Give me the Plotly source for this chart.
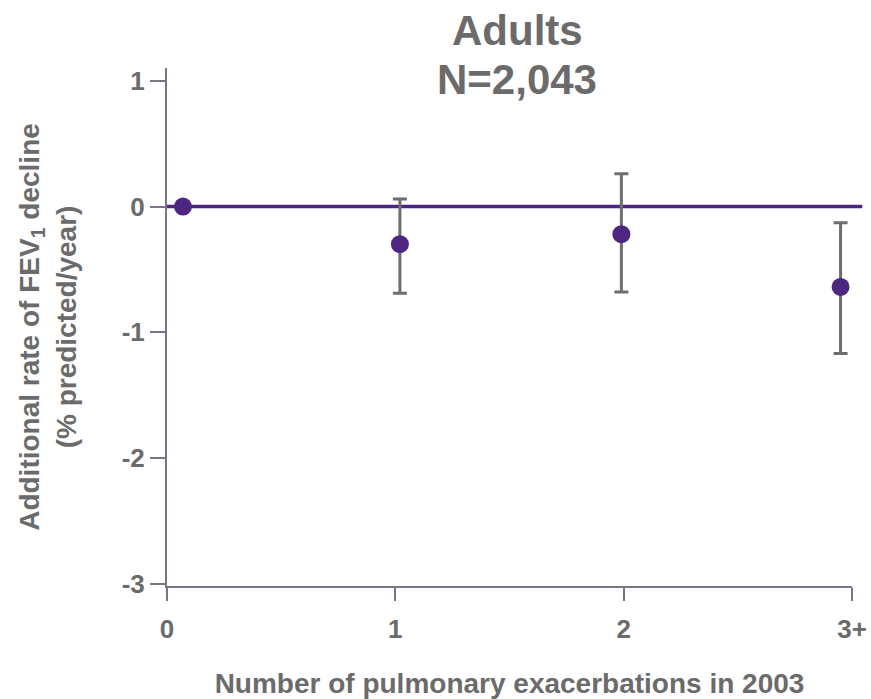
import plotly.graph_objects as go

# Exacerbation groups and their plotting positions along the x axis
group_labels = ["0", "1", "2", "3+"]
group_ticks = [0, 1, 2, 3]
point_x = [0.07, 1.02, 1.99, 2.95]

# Additional FEV1 decline (% predicted/year) with confidence limits
decline = [0.0, -0.30, -0.22, -0.64]
ci_upper = [None, 0.06, 0.26, -0.13]
ci_lower = [None, -0.69, -0.68, -1.17]

y_ticks = [1, 0, -1, -2, -3]
y_tick_text = ["1", "0", "-1", "-2", "-3"]
REF_LEVEL = 0

# Heading lines and their vertical placement (paper units)
heading_lines = ["Adults", "N=2,043"]
heading_y = [1.073, 0.977]

PURPLE = "#4f2582"
TEXT = "#6b6b6b"
AXIS = "#7b7386"
ERR = "#6e6e6e"
FONT = "Liberation Sans, Arial, sans-serif"

err_plus = [0 if u is None else u - v for u, v in zip(ci_upper, decline)]
err_minus = [0 if l is None else v - l for l, v in zip(ci_lower, decline)]

fig = go.Figure()

fig.add_trace(go.Scatter(
    x=point_x,
    y=decline,
    mode="markers",
    marker=dict(size=18, color=PURPLE),
    error_y=dict(
        type="data",
        symmetric=False,
        array=err_plus,
        arrayminus=err_minus,
        color=ERR,
        thickness=3,
        width=7,
    ),
    showlegend=False,
))

# Reference line at no additional decline
fig.add_shape(
    type="line",
    xref="paper", yref="y",
    x0=0, x1=1.015, y0=REF_LEVEL, y1=REF_LEVEL,
    line=dict(color=PURPLE, width=3.5),
    layer="below",
)

# Heading above the plot, one annotation per line
for line, ypos in zip(heading_lines, heading_y):
    fig.add_annotation(
        text=line,
        xref="paper", yref="paper",
        x=0.511, y=ypos,
        xanchor="center", yanchor="middle",
        showarrow=False,
        font=dict(size=42, weight="bold", color=TEXT, family=FONT),
    )

fig.update_layout(
    width=871,
    height=699,
    margin=dict(l=167, r=19, t=68, b=113),
    paper_bgcolor="white",
    plot_bgcolor="white",
    font=dict(family=FONT, color=TEXT),
)

fig.update_xaxes(
    automargin=False,
    range=[0, 3],
    tickvals=group_ticks,
    ticktext=group_labels,
    ticks="outside", ticklen=13, tickwidth=2, tickcolor=AXIS,
    ticklabelstandoff=6,
    showline=True, linecolor=AXIS, linewidth=2,
    showgrid=False, zeroline=False,
    tickfont=dict(size=26, weight="bold", color=TEXT, family=FONT),
    title=dict(
        text="Number of pulmonary exacerbations in 2003",
        font=dict(size=28, weight="bold", color=TEXT, family=FONT),
        standoff=46,
    ),
)

fig.update_yaxes(
    automargin=False,
    range=[-3.019, 1.102],
    tickvals=y_ticks,
    ticktext=y_tick_text,
    ticks="outside", ticklen=15, tickwidth=2, tickcolor=AXIS,
    showline=True, linecolor=AXIS, linewidth=2,
    showgrid=False, zeroline=False,
    tickfont=dict(size=26, weight="bold", color=TEXT, family=FONT),
    title=dict(
        text="Additional rate of FEV<sub>1</sub> decline<br>(% predicted/year)",
        font=dict(size=28, weight="bold", color=TEXT, family=FONT),
        standoff=37,
    ),
)

fig.write_html("out.html")
